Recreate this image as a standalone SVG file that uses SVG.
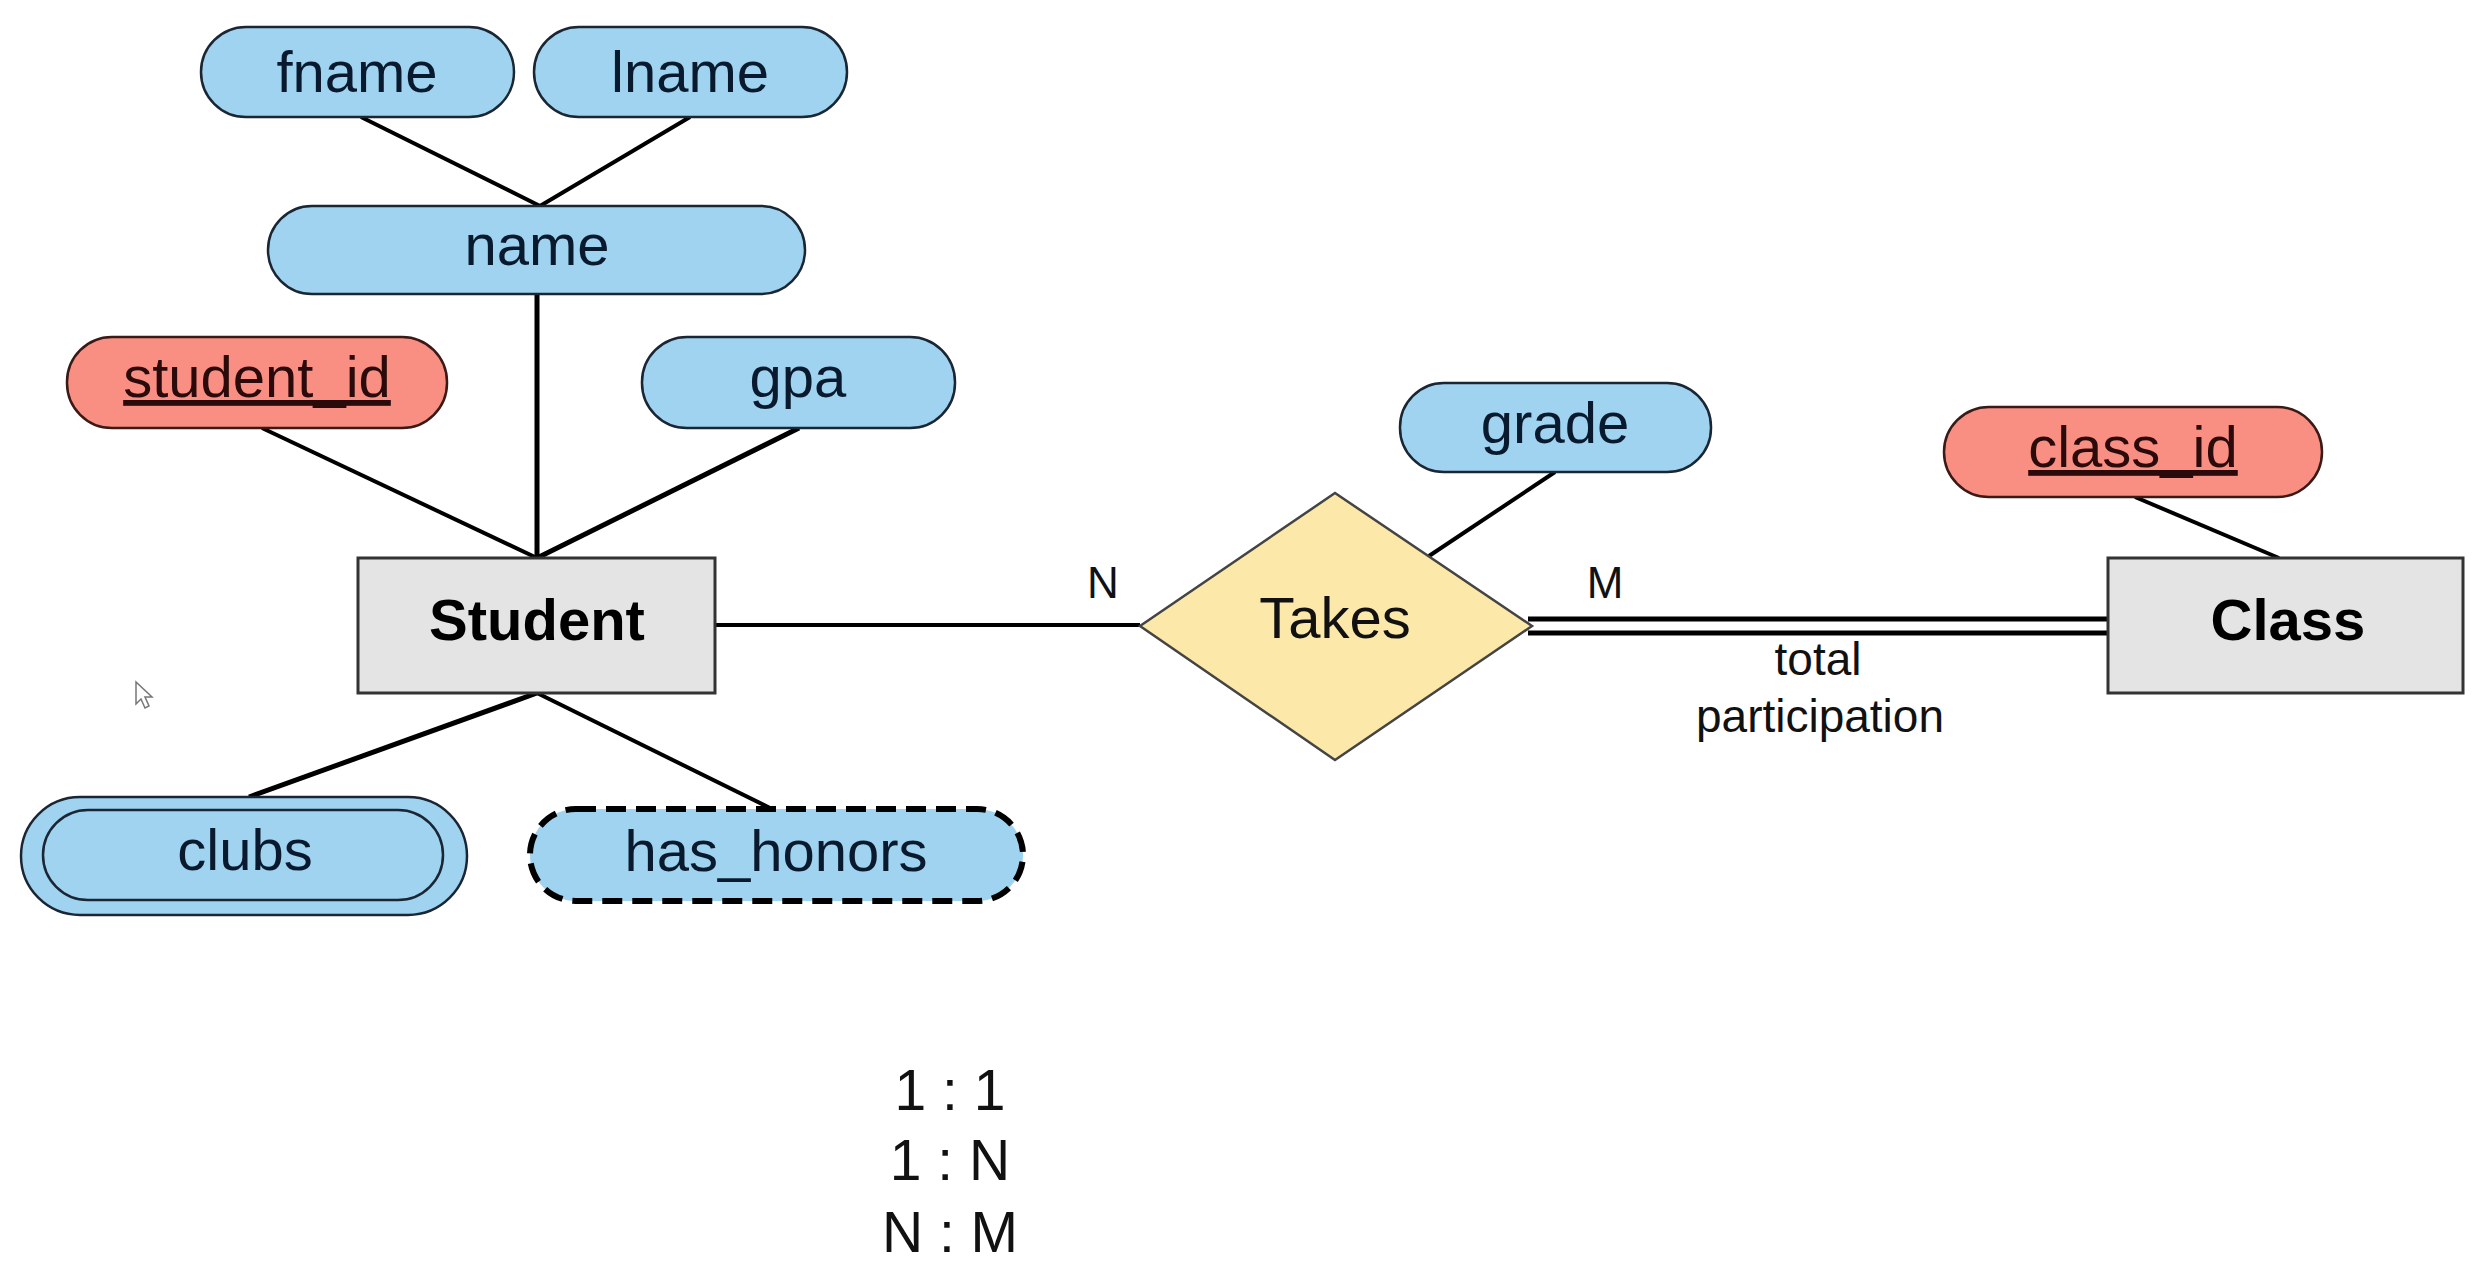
<svg xmlns="http://www.w3.org/2000/svg" width="2486" height="1272" viewBox="0 0 2486 1272">
<style>
.attr{fill:#9fd3f0;stroke:#1a2633;stroke-width:2.5}
.key{fill:#f98e82;stroke:#3a1a16;stroke-width:2.5}
.ent{fill:#e4e4e4;stroke:#333;stroke-width:3}
.rel{fill:#fce8a8;stroke:#444;stroke-width:2.5}
.dash{fill:#9fd3f0;stroke:#000;stroke-width:6;stroke-dasharray:20 10}
.t{font-family:"Liberation Sans",Arial,sans-serif;font-size:58px;text-anchor:middle}
.ta{fill:#0a1a2e}
.tk{fill:#2a0a0a}
.tb{fill:#000;font-weight:bold}
.lbl{font-family:"Liberation Sans",Arial,sans-serif;font-size:44px;text-anchor:middle;fill:#111}
.lbl2{font-family:"Liberation Sans",Arial,sans-serif;font-size:46px;text-anchor:middle;fill:#111}
.ratio{font-family:"Liberation Sans",Arial,sans-serif;font-size:57px;text-anchor:middle;fill:#111}
.c{stroke:#000;stroke-width:4;fill:none}
.cw{stroke:#000;stroke-width:5;fill:none}
</style>
<rect width="2486" height="1272" fill="#ffffff"/>
<g id="connectors">
<line class="c" x1="361" y1="117" x2="540" y2="206"/>
<line class="c" x1="690" y1="117" x2="540" y2="206"/>
<line class="cw" x1="537" y1="294" x2="537" y2="558"/>
<line class="c" x1="262" y1="428" x2="537" y2="558"/>
<line class="cw" x1="799" y1="428" x2="537" y2="558"/>
<line class="cw" x1="537" y1="693" x2="249" y2="797"/>
<line class="c" x1="537" y1="693" x2="772" y2="809"/>
<line class="c" x1="715" y1="625" x2="1140" y2="625"/>
<line class="c" x1="1555" y1="472" x2="1429" y2="556"/>
<line class="c" x1="2135" y1="497" x2="2279" y2="558"/>
<line class="cw" x1="1528" y1="619" x2="2108" y2="619"/>
<line class="cw" x1="1528" y1="633" x2="2108" y2="633"/>
</g>
<g id="fname"><rect class="attr" x="201" y="27" width="313" height="90" rx="45"/><text class="t ta" x="357" y="92">fname</text></g>
<g id="lname"><rect class="attr" x="534" y="27" width="313" height="90" rx="45"/><text class="t ta" x="690" y="92">lname</text></g>
<g id="name"><rect class="attr" x="268" y="206" width="537" height="88" rx="44"/><text class="t ta" x="537" y="265">name</text></g>
<g id="student_id"><rect class="key" x="67" y="337" width="380" height="91" rx="45"/><text class="t tk" x="257" y="397" text-decoration="underline">student_id</text></g>
<g id="gpa"><rect class="attr" x="642" y="337" width="313" height="91" rx="45"/><text class="t ta" x="798" y="397">gpa</text></g>
<g id="student"><rect class="ent" x="358" y="558" width="357" height="135"/><text class="t tb" x="537" y="640">Student</text></g>
<g id="clubs"><rect class="attr" x="21" y="797" width="446" height="118" rx="59"/><rect x="43" y="810" width="400" height="90" rx="45" fill="none" stroke="#1a2633" stroke-width="2.5"/><text class="t ta" x="245" y="870">clubs</text></g>
<g id="has_honors"><rect class="dash" x="530" y="809" width="493" height="92" rx="46"/><text class="t ta" x="776" y="871">has_honors</text></g>
<g id="takes"><polygon class="rel" points="1140,626 1335,493 1532,626 1335,760"/><text class="t" x="1335" y="638" fill="#111">Takes</text></g>
<g id="grade"><rect class="attr" x="1400" y="383" width="311" height="89" rx="44"/><text class="t ta" x="1555" y="443">grade</text></g>
<g id="class_id"><rect class="key" x="1944" y="407" width="378" height="90" rx="45"/><text class="t tk" x="2133" y="467" text-decoration="underline">class_id</text></g>
<g id="class"><rect class="ent" x="2108" y="558" width="355" height="135"/><text class="t tb" x="2288" y="640">Class</text></g>
<g id="labels">
<text class="lbl" x="1103" y="598">N</text>
<text class="lbl" x="1605" y="598">M</text>
<text class="lbl2" x="1818" y="675">total</text>
<text class="lbl2" x="1820" y="732">participation</text>
<text class="ratio" x="950" y="1110">1 : 1</text>
<text class="ratio" x="950" y="1180">1 : N</text>
<text class="ratio" x="950" y="1252">N : M</text>
</g>
<path d="M136,682 L136,704 L141,699 L145,708 L149,706 L145,697 L152,697 Z" fill="#fff" stroke="#777" stroke-width="1.5"/>
</svg>
